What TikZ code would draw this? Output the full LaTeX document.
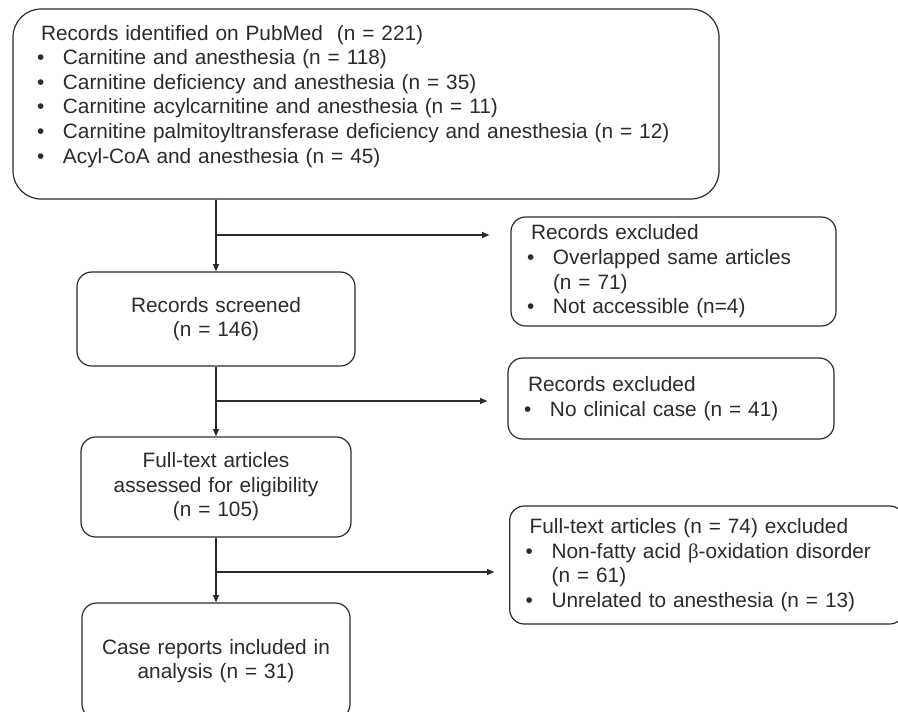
\documentclass[tikz,border=0pt]{standalone}
\usepackage{fontspec}
\setmainfont{Liberation Sans}
\newfontfamily\greekfont{Liberation Serif}
\usetikzlibrary{arrows.meta}
\definecolor{ink}{HTML}{2B2B2B}
\newcommand{\blt}{\makebox[19.5pt][l]{\textbullet}}
\newcommand{\cont}{\hspace*{19.5pt}}
\tikzset{
    flow-box/.style = {draw=ink, text=ink, line width=0.9pt, rectangle, rounded corners=11pt, inner xsep=6pt, inner ysep=0pt, align=center},
    list-box/.style = {flow-box, align=left, inner xsep=12pt},
    flow-arrow/.style = {draw=ink, line width=0.9pt, -{Triangle[length=5.5pt, width=4.5pt]}},
}

\begin{document}
\begin{tikzpicture}[x=0.75pt, y=-0.75pt, font=\fontsize{15.6}{18.45}\selectfont]
\clip (0,0) rectangle (898,711);

\node[list-box, rounded corners=21pt, inner xsep=18pt, text width=493.5pt, minimum height=142.5pt] (identified) at (366,104) {\hspace*{3pt}Records identified on PubMed \ (n = 221)\\
    \blt Carnitine and anesthesia (n = 118)\\
    \blt Carnitine deficiency and anesthesia (n = 35)\\
    \blt Carnitine acylcarnitine and anesthesia (n = 11)\\
    \blt Carnitine palmitoyltransferase deficiency and anesthesia (n = 12)\\
    \blt Acyl-CoA and anesthesia (n = 45)\rule[-15pt]{0pt}{15pt}};

\node[flow-box, text width=196.5pt, minimum height=70.5pt] (screened) at (216,319) {Records screened\\(n = 146)};
\node[flow-box, text width=190.5pt, minimum height=75pt] (full-text) at (216,487) {Full-text articles\\assessed for eligibility\\(n = 105)};
\node[flow-box, text width=189pt, minimum height=87pt] (included) at (216,661) {Case reports included in\\analysis (n = 31)};

\node[list-box, text width=219.75pt, minimum height=81.75pt] (excluded-a) at (673.5,271.5) {\hspace*{3pt}Records excluded\\
    \blt Overlapped same articles\\
    \cont(n = 71)\\
    \blt Not accessible (n=4)};
\node[list-box, text width=220.5pt, minimum height=60.75pt] (excluded-b) at (671,398.5) {\hspace*{3pt}Records excluded\\
    \blt No clinical case (n = 41)};
\node[list-box, text width=272pt, minimum height=88.5pt] (excluded-c) at (707,565) {\hspace*{3pt}Full-text articles (n = 74) excluded\\
    \blt Non-fatty acid {\greekfont β}-oxidation disorder\\
    \cont(n = 61)\\
    \blt Unrelated to anesthesia (n = 13)};

\coordinate (split-a) at (216,235);
\coordinate (split-b) at (216,401);
\coordinate (split-c) at (216,572);

\draw[flow-arrow] (identified.south -| screened.north) -- (screened.north);
\draw[flow-arrow] (screened.south) -- (full-text.north);
\draw[flow-arrow] (full-text.south) -- (included.north);
\draw[flow-arrow, shorten >=15.75pt] (split-a) -- (split-a -| excluded-a.west);
\draw[flow-arrow, shorten >=15pt] (split-b) -- (split-b -| excluded-b.west);
\draw[flow-arrow, shorten >=11pt] (split-c) -- (split-c -| excluded-c.west);
\end{tikzpicture}
\end{document}
